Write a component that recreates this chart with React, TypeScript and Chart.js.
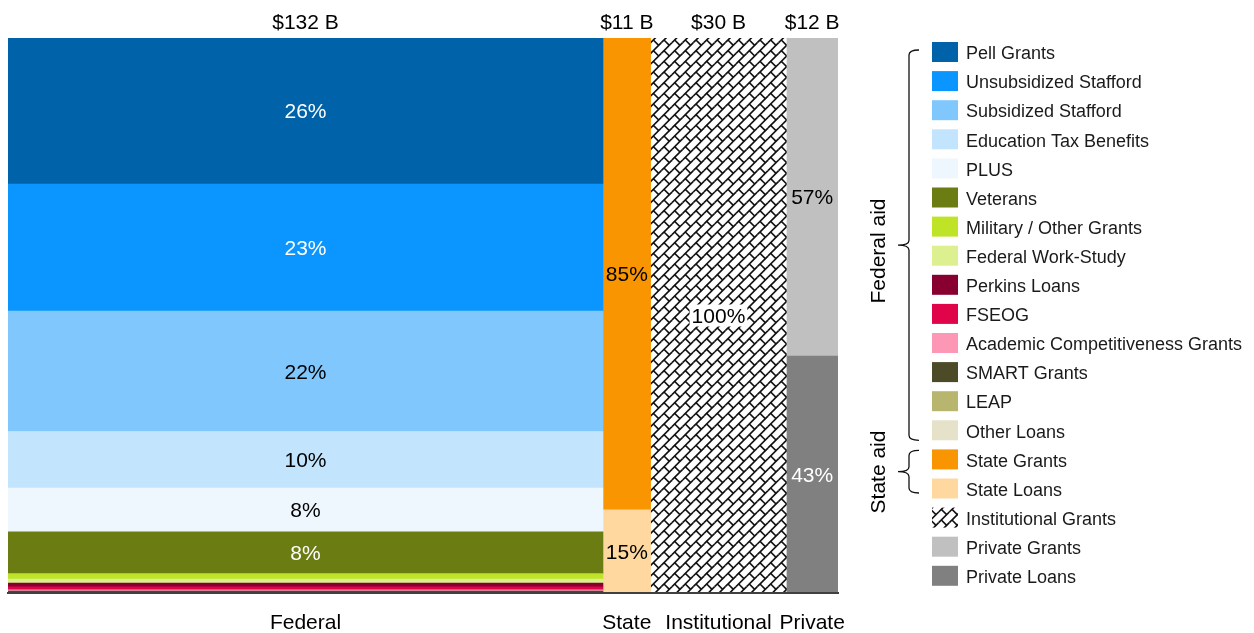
import React, { useEffect, useRef } from 'react';
import { Chart, registerables } from 'chart.js';

Chart.register(...registerables);

// ---------- data ----------
const columnNames = ['Federal', 'State', 'Institutional', 'Private'];
const columnTotalLabels = ['$132 B', '$11 B', '$30 B', '$12 B'];
const columnTotals = [132.4, 10.6, 30.2, 11.5]; // $ billions (column widths)

const federalSeries = [
  'Pell Grants',
  'Unsubsidized Stafford',
  'Subsidized Stafford',
  'Education Tax Benefits',
  'PLUS',
  'Veterans',
  'Military / Other Grants',
  'Federal Work-Study',
  'Perkins Loans',
  'FSEOG',
  'Academic Competitiveness Grants',
  'SMART Grants',
  'LEAP',
  'Other Loans',
];
const federalShares = [26.3, 22.9, 21.7, 10.2, 7.9, 7.5, 1.0, 0.7, 0.7, 0.55, 0.2, 0.25, 0.05, 0.05];

const stateSeries = ['State Grants', 'State Loans'];
const stateShares = [85, 15];

const institutionalSeries = ['Institutional Grants'];
const institutionalShares = [100];

const privateSeries = ['Private Grants', 'Private Loans'];
const privateShares = [57.3, 42.7];

// ---------- styles ----------
const federalColors = [
  '#0063A9', '#0B96FF', '#80C7FD', '#C2E4FD', '#EFF7FE', '#6A7C12', '#BEE327',
  '#DDF08F', '#870030', '#E0054A', '#FC98B6', '#4D4A27', '#B8B56F', '#E6E2C9',
];
const federalTextColors = ['#fff', '#fff', '#000', '#000', '#000', '#fff', '#000', '#000', '#000', '#000', '#000', '#000', '#000', '#000'];
const stateColors = ['#F89500', '#FFD89F'];
const stateTextColors = ['#000', '#000'];
const privateColors = ['#C0C0C0', '#808080'];
const privateTextColors = ['#000', '#fff'];

const FONT = 'Arial, "Liberation Sans", Helvetica, sans-serif';

function makeShinglePattern(ctx: CanvasRenderingContext2D): CanvasPattern | string {
  const size = 32;
  const P = size / 3;
  const c = document.createElement('canvas');
  c.width = size;
  c.height = size;
  const g = c.getContext('2d');
  if (!g) return '#fff';
  g.fillStyle = '#fff';
  g.fillRect(0, 0, size, size);
  g.strokeStyle = '#111';
  g.lineWidth = 1.6;
  for (let a = -1; a <= 3; a++) {
    for (let b = -1; b <= 3; b++) {
      const ox = a * P;
      const oy = b * P;
      g.beginPath();
      g.moveTo(ox, oy + P);
      g.lineTo(ox + P, oy);
      g.stroke();
      g.beginPath();
      g.moveTo(ox + 0.25 * P, oy + 0.75 * P);
      g.lineTo(ox + 0.75 * P, oy + 1.25 * P);
      g.stroke();
    }
  }
  return ctx.createPattern(c, 'repeat') || '#fff';
}

export default function App() {
  const ref = useRef<HTMLCanvasElement>(null);

  useEffect(() => {
    const canvas = ref.current;
    if (!canvas) return;
    const ctx2d = canvas.getContext('2d')!;
    const pattern = makeShinglePattern(ctx2d);

    const total = columnTotals.reduce((s, v) => s + v, 0);
    const starts: number[] = [];
    let acc = 0;
    columnTotals.forEach((v) => { starts.push(acc); acc += v; });
    const centers = columnTotals.map((v, i) => starts[i] + v / 2);

    const groups = [
      { series: federalSeries, shares: federalShares, colors: federalColors as any[], text: federalTextColors },
      { series: stateSeries, shares: stateShares, colors: stateColors as any[], text: stateTextColors },
      { series: institutionalSeries, shares: institutionalShares, colors: [pattern] as any[], text: ['#000'] },
      { series: privateSeries, shares: privateShares, colors: privateColors as any[], text: privateTextColors },
    ];

    const segInfo: { value: number; text: string; boxed: boolean }[] = [];
    const datasets: any[] = [];
    groups.forEach((grp, c) => {
      for (let k = grp.series.length - 1; k >= 0; k--) {
        datasets.push({
          label: grp.series[k],
          data: [{ x: centers[c], y: grp.shares[k] }],
          backgroundColor: grp.colors[k],
          borderWidth: 0,
          grouped: false,
          barThickness: (cx: any) => {
            const xs = cx.chart.scales.x;
            return Math.abs(xs.getPixelForValue(columnTotals[c]) - xs.getPixelForValue(0));
          },
        });
        segInfo.push({ value: grp.shares[k], text: grp.text[k], boxed: c === 2 });
      }
    });

    const legendItems: { label: string; color: any }[] = [];
    groups.forEach((grp) => grp.series.forEach((s, k) => legendItems.push({ label: s, color: grp.colors[k] })));

    const segmentLabels = {
      id: 'segmentLabels',
      afterDatasetsDraw(chart: any) {
        const ctx = chart.ctx as CanvasRenderingContext2D;
        ctx.save();
        ctx.font = `21px ${FONT}`;
        ctx.textAlign = 'center';
        ctx.textBaseline = 'middle';
        chart.data.datasets.forEach((_ds: any, i: number) => {
          const info = segInfo[i];
          if (!info || info.value < 5) return;
          const el = chart.getDatasetMeta(i).data[0];
          if (!el) return;
          const { x, y, base } = el.getProps(['x', 'y', 'base'], true);
          const cy = (y + base) / 2;
          const txt = `${Math.round(info.value)}%`;
          if (info.boxed) {
            const w = ctx.measureText(txt).width + 4;
            ctx.fillStyle = '#fff';
            ctx.fillRect(x - w / 2, cy - 11, w, 22);
          }
          ctx.fillStyle = info.text;
          ctx.fillText(txt, x, cy + 1.5);
        });
        ctx.restore();
      },
    };

    const sideLegend = {
      id: 'sideLegend',
      afterDraw(chart: any) {
        const ctx = chart.ctx as CanvasRenderingContext2D;
        const boxX = 932, boxW = 26, boxH = 20, textX = 966, firstY = 52, step = 29.1;
        const rowY = (i: number) => firstY + i * step;
        ctx.save();
        legendItems.forEach((it, i) => {
          const cy = rowY(i);
          ctx.fillStyle = it.color;
          ctx.fillRect(boxX, cy - boxH / 2, boxW, boxH);
          ctx.fillStyle = '#1a1a1a';
          ctx.font = `18px ${FONT}`;
          ctx.textAlign = 'left';
          ctx.textBaseline = 'middle';
          ctx.fillText(it.label, textX, cy + 2.3);
        });

        const brace = (top: number, bottom: number) => {
          const xl = 909, xe = 919, xt = 898, r = 5;
          const mid = (top + bottom) / 2;
          ctx.beginPath();
          ctx.moveTo(xe, top);
          ctx.quadraticCurveTo(xl, top, xl, top + r);
          ctx.lineTo(xl, mid - r);
          ctx.quadraticCurveTo(xl, mid, xt, mid);
          ctx.quadraticCurveTo(xl, mid, xl, mid + r);
          ctx.lineTo(xl, bottom - r);
          ctx.quadraticCurveTo(xl, bottom, xe, bottom);
          ctx.stroke();
        };
        ctx.strokeStyle = '#111';
        ctx.lineWidth = 1.3;
        const nFed = federalSeries.length;
        brace(rowY(0) - 2, rowY(nFed - 1) + 10);
        brace(rowY(nFed) - 9, rowY(nFed + stateSeries.length - 1) + 4.5);

        const vText = (t: string, x: number, y: number) => {
          ctx.save();
          ctx.translate(x, y);
          ctx.rotate(-Math.PI / 2);
          ctx.fillStyle = '#000';
          ctx.font = `21px ${FONT}`;
          ctx.textAlign = 'center';
          ctx.textBaseline = 'middle';
          ctx.fillText(t, 0, 0);
          ctx.restore();
        };
        vText('Federal aid', 879, 251);
        vText('State aid', 879, 472);
        ctx.restore();
      },
    };

    Chart.defaults.font.family = FONT;

    const chart = new Chart(canvas, {
      type: 'bar',
      data: { datasets },
      options: {
        responsive: false,
        animation: false,
        devicePixelRatio: 1,
        events: [],
        layout: { padding: { left: 8, right: 416, top: 0, bottom: 0 } },
        plugins: { legend: { display: false }, tooltip: { enabled: false } },
        scales: {
          x: {
            type: 'linear',
            position: 'bottom',
            min: 0,
            max: total,
            offset: false,
            stacked: true,
            grid: { display: false, drawTicks: false },
            border: { display: true, color: '#404040', width: 2, z: 1 },
            afterBuildTicks: (scale: any) => { scale.ticks = centers.map((v) => ({ value: v })); },
            afterFit: (scale: any) => { scale.height = 40; },
            ticks: {
              autoSkip: false,
              maxRotation: 0,
              minRotation: 0,
              padding: 17.2,
              color: '#000',
              font: { size: 21, family: FONT },
              callback: (_v: any, i: number) => columnNames[i],
            },
          },
          xTop: {
            type: 'linear',
            position: 'top',
            min: 0,
            max: total,
            offset: false,
            grid: { display: false, drawTicks: false },
            border: { display: false },
            afterBuildTicks: (scale: any) => { scale.ticks = centers.map((v) => ({ value: v })); },
            afterFit: (scale: any) => { scale.height = 38; },
            ticks: {
              autoSkip: false,
              maxRotation: 0,
              minRotation: 0,
              padding: 1.8,
              color: '#000',
              font: { size: 21, family: FONT },
              callback: (_v: any, i: number) => columnTotalLabels[i],
            },
          },
          y: {
            display: false,
            stacked: true,
            min: 0,
            max: 100,
          },
        },
      } as any,
      plugins: [segmentLabels, sideLegend],
    });

    return () => chart.destroy();
  }, []);

  return (
    <div style={{ position: 'absolute', left: 0, top: 0, width: 1254, height: 633, background: '#fff' }}>
      <canvas ref={ref} width={1254} height={633} style={{ display: 'block', width: 1254, height: 633 }} />
    </div>
  );
}
